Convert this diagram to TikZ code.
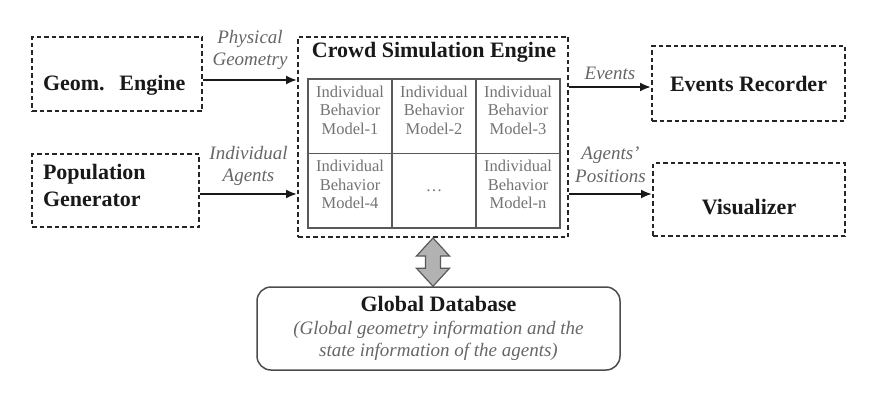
\documentclass[tikz,border=0pt]{standalone}
\usepackage{fontspec}
\setmainfont{Liberation Serif}
\usetikzlibrary{arrows.meta,calc}

\begin{document}
\begin{tikzpicture}[x=1pt,y=-1pt,
  unitbox/.style={draw=black!85, line width=2pt, dash pattern=on 4.5pt off 3pt, font=\bfseries\fontsize{22}{27}\selectfont, text=black!90, inner sep=0pt},
  lbl/.style={font=\itshape\fontsize{19}{22.5}\selectfont, text=black!60, align=center},
  cell/.style={draw=black!65, line width=1.5pt, minimum width=\cellw, minimum height=\cellh, inner sep=0pt, align=center, text depth=12pt, font=\fontsize{16.5}{18.5}\selectfont, text=black!55},
  conn/.style={-{Latex[length=11pt,width=9pt]}, line width=2pt, black!90},
  dbarrow/.style={draw=black!65, line width=1.2pt, fill=black!30, line join=miter}]
\newcommand{\cellw}{84}
\newcommand{\cellh}{74.5}

\useasboundingbox (0,0) rectangle (880,404);

\node[unitbox, minimum width=170, minimum height=74, text width=148, align=left, text height=36pt, text depth=4pt] (geom) at (117,74) {Geom.\ \ Engine};
\node[unitbox, minimum width=167, minimum height=73, text width=145, align=left, text height=10pt, text depth=33pt] (popgen) at (115.5,190.5) {Population\\Generator};
\node[unitbox, minimum width=270, minimum height=200] (cse) at (433,137) {};
\node[font=\bfseries\fontsize{22}{27}\selectfont, text=black!90, anchor=base] (csetitle) at (434,58) {Crowd Simulation Engine};
\node[unitbox, minimum width=193, minimum height=75] (evrec) at (748.5,83.5) {Events Recorder};
\node[unitbox, minimum width=192, minimum height=73, text height=29pt, text depth=0pt] (vis) at (749,199.5) {Visualizer};

\node[cell] (m1) at (350,116) {Individual\\Behavior\\Model-1};
\node[cell] (m2) at (434,116) {Individual\\Behavior\\Model-2};
\node[cell] (m3) at (518,116) {Individual\\Behavior\\Model-3};
\node[cell] (m4) at (350,190.5) {Individual\\Behavior\\Model-4};
\node[cell, text depth=0pt] (mdots) at (434,190.5) {\dots};
\node[cell] (mn) at (518,190.5) {Individual\\Behavior\\Model-n};

\node[draw=black!70, line width=1.5pt, rounded corners=14pt, minimum width=363, minimum height=83, inner sep=0pt, lbl] (gdb) at (438.5,328.5) {\upshape\bfseries\fontsize{22}{27}\selectfont\color{black!90}Global Database\\(Global geometry information and the\\state information of the agents)};

\draw[conn] ([yshift=-6pt]geom.east) -- ([yshift=-6pt]geom.east -| cse.west) node[lbl, midway, above=6pt] {Physical\\Geometry};
\draw[conn] ([yshift=-3.5pt]popgen.east) -- ([yshift=-3.5pt]popgen.east -| cse.west) node[lbl, midway, above=4pt] {Individual\\Agents};
\draw[conn] ([yshift=-3.5pt]evrec.west -| cse.east) -- ([yshift=-3.5pt]evrec.west) node[lbl, midway, above=3pt] {Events};
\draw[conn] ([yshift=5.5pt]vis.west -| cse.east) -- ([yshift=5.5pt]vis.west) node[lbl, midway, above=7pt] {Agents'\\Positions};

\draw[dbarrow] (cse.south) -- ++(16.5,18) -- ++(-9,0) -- ($(cse.south |- gdb.north)+(7.5,-18)$) -- ++(9,0) -- (cse.south |- gdb.north) -- ++(-16.5,-18) -- ++(9,0) -- ($(cse.south)+(-7.5,18)$) -- ++(-9,0) -- cycle;
\end{tikzpicture}
\end{document}
